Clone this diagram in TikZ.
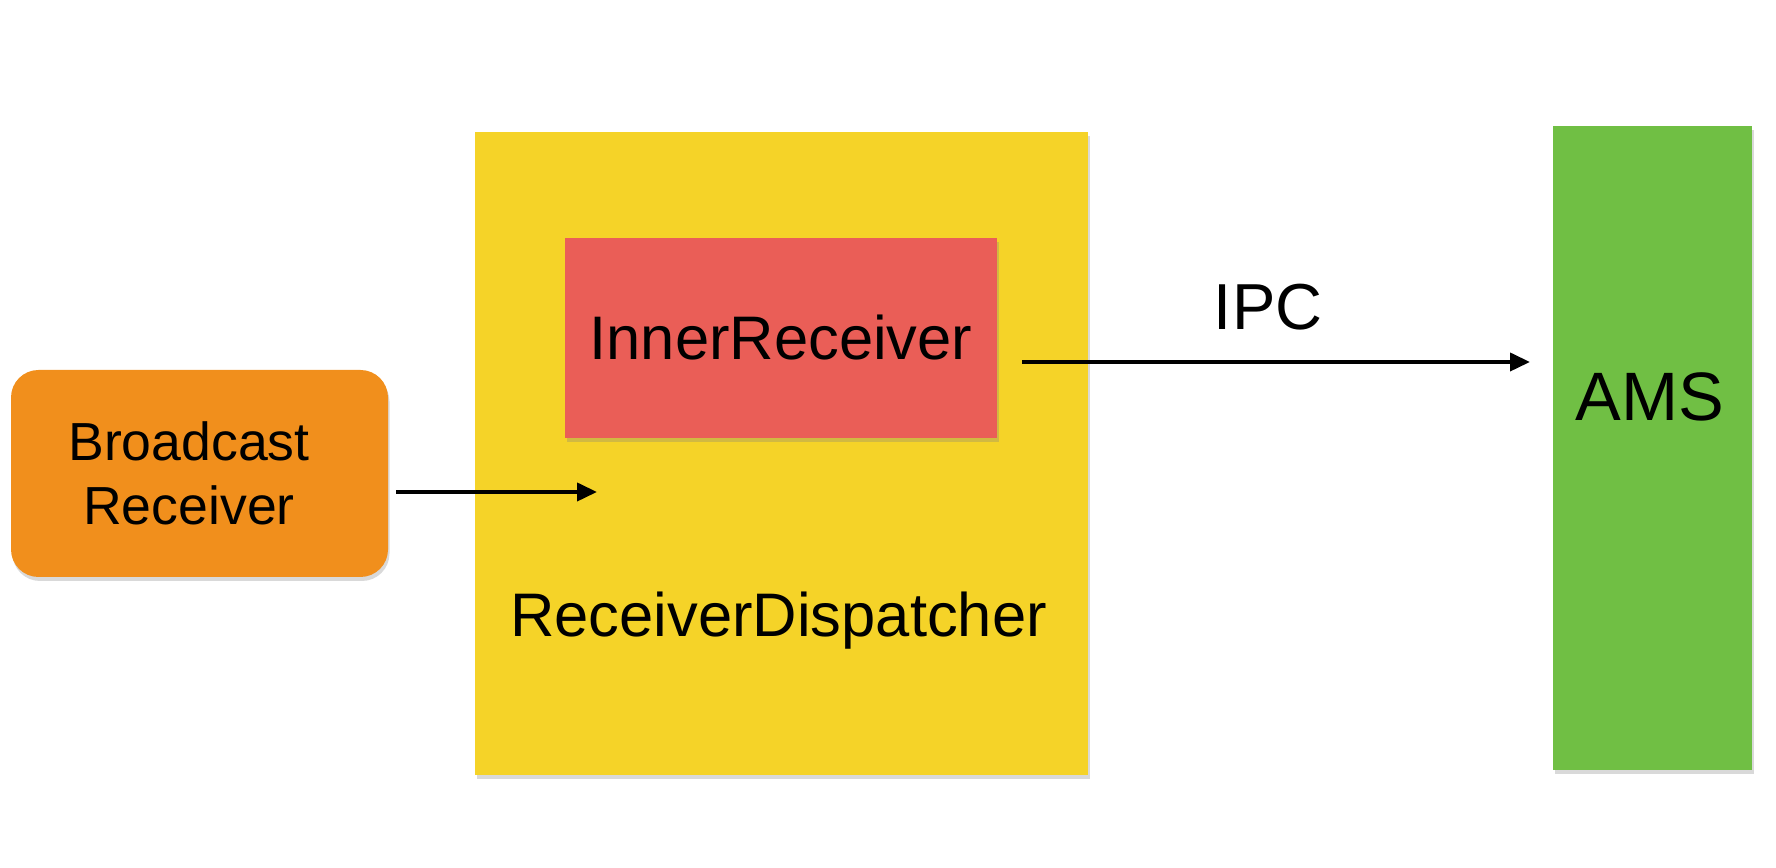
\documentclass[tikz,border=0pt]{standalone}
\usepackage{fontspec}
\setmainfont{Liberation Sans}
\usetikzlibrary{
  arrows.meta,
  positioning,
  shadows
}
\definecolor{bcastorange}{RGB}{241,143,28}
\definecolor{dispyellow}{RGB}{245,211,40}
\definecolor{innerred}{RGB}{234,94,87}
\definecolor{amsgreen}{RGB}{112,191,68}
\tikzset{
  >={Triangle[length=4mm, width=3.6mm]},
  box/.style = {rectangle, inner sep=0pt,
    drop shadow={opacity=0.3, shadow xshift=0.3mm, shadow yshift=-0.8mm}},
  flow/.style = {->, line width=2.2pt},
  bigtext/.style = {font=\fontsize{#1}{#1}\selectfont},
}

\begin{document}
\begin{tikzpicture}
  \useasboundingbox (0,0) rectangle (35.52,17.36);
  \node[box, fill=dispyellow, minimum width=12.26cm, minimum height=12.86cm] (disp) at (15.63,8.29) {};
  \node[box, fill=innerred, minimum width=8.64cm, minimum height=4cm, bigtext=35] (inner) at (15.62,10.6) {InnerReceiver};
  \node[anchor=base, bigtext=35] (displabel) at (15.57,4.62) {ReceiverDispatcher};
  \node[box, rounded corners=5.5mm, fill=bcastorange, minimum width=7.54cm, minimum height=4.14cm] (bcast) at (3.99,7.89) {};
  \node[align=center, inner sep=0pt, font=\fontsize{30.5}{36.4}\selectfont] (bcastlabel) at (3.78,7.89) {Broadcast\\Receiver};
  \node[box, fill=amsgreen, minimum width=3.98cm, minimum height=12.88cm] (ams) at (33.05,8.4) {};
  \node[anchor=base, bigtext=39] (amslabel) at (33.0,8.94) {AMS};
  \coordinate (dispin) at (11.94,7.52);
  \coordinate (amsin) at (30.6,10.12);
  \draw[flow] ([xshift=1.6mm]bcast.east |- dispin) -- (dispin);
  \draw[flow] ([xshift=5mm]inner.east |- amsin) -- (amsin)
      node[midway, above=6.4mm, xshift=-1.6mm, inner sep=0pt, anchor=base, bigtext=37] (ipc) {IPC};
\end{tikzpicture}
\end{document}
